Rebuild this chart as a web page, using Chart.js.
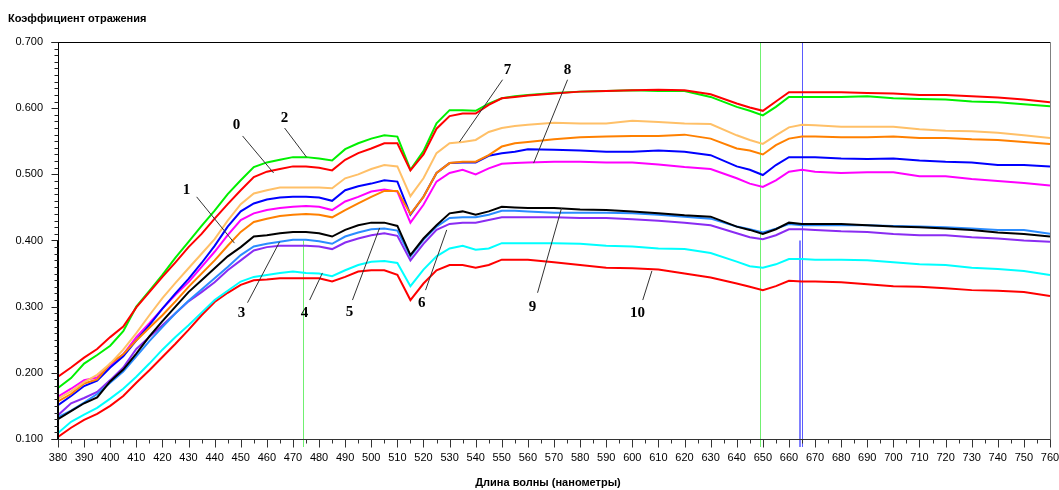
<!DOCTYPE html>
<html lang="ru">
<head>
<meta charset="utf-8">
<title>Коэффициент отражения</title>
<script src="https://cdn.jsdelivr.net/npm/chart.js@4.4.1/dist/chart.umd.min.js"></script>
<style>
  html, body { margin: 0; padding: 0; background: #fff; }
  #contenedor { position: relative; width: 1059px; height: 490px; }
</style>
</head>
<body>
<div id="contenedor"><canvas id="grafico"></canvas></div>
<script>
// Длина волны, нм
const longitudes = [380,385,390,395,400,405,410,415,420,425,430,435,440,445,450,455,460,465,470,475,
  480,485,490,495,500,505,510,515,520,525,530,535,540,545,550,555,560,570,580,590,600,610,620,630,640,
  645,650,655,660,665,670,680,690,700,710,720,730,740,750,760];

// кривые 0..10 (коэффициент отражения)
const curva0 = [.194,.208,.223,.236,.254,.270,.299,.322,.345,.367,.390,.410,.433,.455,.476,.496,.504,.508,.512,.512,
  .510,.506,.522,.532,.539,.547,.547,.506,.530,.569,.588,.592,.592,.605,.615,.617,.619,.622,.625,.626,.627,.628,.627,.621,.607,
  .601,.596,.610,.624,.624,.624,.624,.623,.622,.620,.620,.618,.616,.613,.609];
const curva2 = [.177,.192,.214,.227,.241,.263,.300,.324,.348,.374,.398,.422,.445,.470,.491,.511,.518,.522,.526,.526,
  .524,.521,.538,.547,.554,.559,.557,.507,.535,.577,.597,.597,.596,.607,.615,.618,.620,.623,.625,.626,.627,.626,.626,.617,.602,
  .596,.589,.602,.617,.617,.617,.617,.618,.615,.614,.613,.610,.609,.606,.603];
const curva7 = [.161,.172,.186,.197,.214,.235,.260,.287,.313,.336,.358,.380,.402,.430,.455,.471,.476,.480,.480,.480,
  .480,.479,.494,.500,.508,.514,.512,.467,.494,.532,.547,.549,.552,.564,.570,.573,.575,.578,.577,.577,.581,.579,.577,.576,.559,
  .552,.546,.559,.571,.575,.574,.572,.572,.572,.568,.566,.565,.563,.559,.555];
const curva1 = [.157,.168,.184,.190,.214,.228,.249,.268,.287,.308,.330,.350,.370,.392,.413,.428,.433,.437,.439,.440,
  .439,.435,.446,.456,.466,.475,.475,.440,.466,.502,.517,.519,.519,.529,.542,.547,.549,.553,.556,.557,.558,.558,.560,.554,.539,
  .536,.530,.544,.554,.557,.557,.556,.556,.557,.555,.555,.553,.552,.549,.546];
const curvaAzul = [.151,.165,.180,.188,.208,.225,.249,.272,.297,.320,.342,.366,.392,.421,.444,.456,.462,.465,.466,.466,
  .465,.460,.476,.482,.486,.491,.489,.439,.466,.502,.517,.518,.518,.528,.532,.534,.538,.537,.536,.534,.534,.536,.534,.529,.512,
  .507,.499,.514,.526,.526,.526,.524,.523,.524,.521,.519,.518,.514,.514,.512];
const curva8 = [.164,.176,.189,.193,.212,.228,.254,.275,.297,.318,.337,.360,.383,.408,.431,.441,.446,.449,.451,.452,
  .451,.446,.459,.466,.474,.477,.474,.427,.454,.489,.502,.507,.500,.509,.516,.517,.518,.519,.519,.518,.518,.515,.511,.508,.494,
  .486,.481,.491,.504,.507,.504,.502,.503,.503,.497,.497,.493,.490,.487,.483];
const curva9 = [.130,.142,.154,.163,.187,.205,.229,.255,.278,.300,.322,.340,.358,.376,.390,.406,.408,.411,.413,.413,
  .411,.406,.416,.423,.427,.427,.422,.378,.403,.423,.441,.444,.439,.444,.451,.450,.449,.449,.447,.446,.444,.441,.438,.436,.421,
  .416,.410,.417,.427,.425,.425,.425,.423,.421,.420,.418,.416,.412,.410,.406];
const curva5 = [.133,.143,.155,.168,.185,.202,.225,.248,.269,.290,.309,.326,.343,.360,.378,.391,.395,.398,.401,.401,
  .399,.395,.406,.412,.417,.418,.415,.376,.401,.421,.434,.435,.435,.439,.445,.445,.444,.442,.442,.442,.441,.439,.436,.433,.421,
  .417,.412,.418,.425,.423,.423,.423,.423,.422,.421,.420,.418,.416,.416,.410];
const curva6 = [.136,.154,.162,.171,.189,.208,.236,.254,.272,.290,.308,.322,.337,.355,.370,.385,.390,.392,.392,.392,
  .391,.387,.397,.403,.408,.411,.407,.370,.395,.416,.425,.427,.427,.431,.435,.435,.435,.435,.434,.434,.432,.430,.427,.423,.411,
  .405,.402,.408,.417,.417,.416,.414,.413,.410,.408,.408,.405,.403,.400,.398];
const curva4 = [.109,.126,.137,.147,.161,.176,.194,.214,.235,.254,.272,.291,.310,.324,.338,.345,.348,.351,.353,.351,
  .350,.346,.355,.363,.368,.369,.366,.331,.356,.376,.388,.392,.386,.388,.396,.396,.396,.396,.395,.392,.391,.388,.387,.381,.368,
  .361,.359,.364,.372,.372,.371,.371,.370,.367,.364,.363,.359,.357,.354,.348];
const curva10 = [.103,.117,.129,.138,.150,.165,.185,.204,.224,.244,.265,.287,.307,.321,.333,.340,.341,.343,.343,.343,
  .343,.338,.345,.353,.355,.355,.348,.310,.335,.355,.363,.363,.359,.363,.371,.371,.371,.367,.363,.359,.358,.356,.350,.344,.335,
  .330,.325,.331,.339,.338,.338,.337,.334,.331,.330,.328,.325,.324,.322,.316];

const series = [
  { nombre: '0', datos: curva0, color: '#ff0000' },
  { nombre: '2', datos: curva2, color: '#00f000' },
  { nombre: '7', datos: curva7, color: '#ffc068' },
  { nombre: '1', datos: curva1, color: '#ff8000' },
  { nombre: 'azul', datos: curvaAzul, color: '#0000ff' },
  { nombre: '8', datos: curva8, color: '#ff00ff' },
  { nombre: '9', datos: curva9, color: '#000000' },
  { nombre: '5', datos: curva5, color: '#2a8cff' },
  { nombre: '6', datos: curva6, color: '#8a2cf2' },
  { nombre: '4', datos: curva4, color: '#00ffff' },
  { nombre: '10', datos: curva10, color: '#ff0000' }
];

// номера кривых: текст и выноска (в координатах данных)
const etiquetas = [
  { t: '0',  tx: 448.4, ty: .575, a: [450.7, .558], b: [462.6, .502] },
  { t: '2',  tx: 466.8, ty: .585, a: [466.8, .570], b: [475.2, .526] },
  { t: '1',  tx: 429.2, ty: .476, a: [433.1, .466], b: [447.6, .396] },
  { t: '3',  tx: 450.3, ty: .290, a: [452.6, .306], b: [464.9, .398] },
  { t: '4',  tx: 474.4, ty: .290, a: [476.4, .310], b: [481.3, .351] },
  { t: '5',  tx: 491.7, ty: .292, a: [492.8, .310], b: [503.2, .419] },
  { t: '6',  tx: 519.3, ty: .306, a: [520.8, .325], b: [528.9, .416] },
  { t: '7',  tx: 552.2, ty: .658, a: [550.3, .643], b: [533.8, .549] },
  { t: '8',  tx: 575.2, ty: .658, a: [575.2, .643], b: [562.2, .517] },
  { t: '9',  tx: 561.8, ty: .299, a: [563.7, .321], b: [572.9, .449] },
  { t: '10', tx: 602.0, ty: .290, a: [604.0, .310], b: [607.5, .354] }
];

// вертикальные маркеры
const marcadores = [
  { nm: 474, desde: .4, color: '#70f070', ancho: 1 },
  { nm: 649, desde: .7, color: '#70f070', ancho: 1 },
  { nm: 664.2, desde: .4, color: '#8080ff', ancho: 2 },
  { nm: 665, desde: .7, color: '#5a5aff', ancho: 1 }
];

const fuenteTitulo = 'bold 11px "Liberation Sans", Arial, sans-serif';

const ejes = {
  id: 'ejes',
  beforeDatasetsDraw(chart) {
    const { ctx, chartArea: a, scales: { x, y } } = chart;
    ctx.save();
    marcadores.forEach(m => {
      const px = Math.round(x.getPixelForValue(m.nm)) + (m.ancho % 2 ? 0.5 : 0);
      ctx.strokeStyle = m.color;
      ctx.lineWidth = m.ancho;
      ctx.beginPath();
      ctx.moveTo(px, y.getPixelForValue(m.desde));
      ctx.lineTo(px, a.bottom + 8);
      ctx.stroke();
    });
    ctx.restore();
  },
  afterDatasetsDraw(chart) {
    const { ctx, chartArea: a, scales: { x, y } } = chart;
    ctx.save();
    ctx.lineWidth = 1;

    // рамка
    const L = Math.round(a.left) + 0.5, R = Math.round(a.right) + 0.5;
    const T = Math.round(a.top) + 0.5, B = Math.round(a.bottom) + 0.5;
    ctx.strokeStyle = '#000';
    ctx.beginPath();
    ctx.moveTo(L - 7, T); ctx.lineTo(R, T);
    ctx.moveTo(L, T); ctx.lineTo(L, B);
    ctx.stroke();
    ctx.strokeStyle = '#808080';
    ctx.beginPath();
    ctx.moveTo(R, T); ctx.lineTo(R, B);
    ctx.stroke();
    ctx.strokeStyle = '#333';
    ctx.beginPath();
    ctx.moveTo(L - 7, B); ctx.lineTo(R, B);
    ctx.stroke();
    // утолщение оси слева
    ctx.strokeStyle = '#000';
    ctx.beginPath();
    ctx.moveTo(L - 1, y.getPixelForValue(.4)); ctx.lineTo(L - 1, B);
    ctx.stroke();

    // деления оси Y
    ctx.strokeStyle = '#222';
    ctx.beginPath();
    for (let i = 10; i <= 70; i++) {
      const py = Math.round(y.getPixelForValue(i / 100)) + 0.5;
      const len = i % 10 === 0 ? 7 : 4;
      ctx.moveTo(L - len, py); ctx.lineTo(L, py);
    }
    ctx.stroke();

    // деления оси X
    ctx.strokeStyle = '#333';
    ctx.beginPath();
    for (let nm = 380; nm <= 760; nm += 5) {
      const px = Math.round(x.getPixelForValue(nm)) + 0.5;
      const len = nm % 10 === 0 ? 8 : 4;
      ctx.moveTo(px, B); ctx.lineTo(px, B + len);
    }
    ctx.stroke();

    // выноски и номера кривых
    ctx.strokeStyle = '#333';
    ctx.lineWidth = 1;
    ctx.beginPath();
    etiquetas.forEach(e => {
      ctx.moveTo(x.getPixelForValue(e.a[0]), y.getPixelForValue(e.a[1]));
      ctx.lineTo(x.getPixelForValue(e.b[0]), y.getPixelForValue(e.b[1]));
    });
    ctx.stroke();
    ctx.fillStyle = '#000';
    ctx.font = 'bold 15px "Liberation Serif", "Times New Roman", serif';
    ctx.textAlign = 'center';
    ctx.textBaseline = 'middle';
    etiquetas.forEach(e => {
      ctx.fillText(e.t, x.getPixelForValue(e.tx), y.getPixelForValue(e.ty));
    });

    // заголовки
    ctx.font = fuenteTitulo;
    ctx.textAlign = 'left';
    ctx.fillText('Коэффициент отражения', 8, 19);
    ctx.textAlign = 'center';
    ctx.fillText('Длина волны (нанометры)', 548, 483);
    ctx.restore();
  }
};

const conjuntos = series.map(s => ({
  label: s.nombre,
  data: longitudes.map((nm, i) => ({ x: nm, y: s.datos[i] })),
  borderColor: s.color,
  backgroundColor: s.color,
  borderWidth: 2,
  pointRadius: 0,
  fill: false,
  tension: 0
}));

new Chart(document.getElementById('grafico'), {
  type: 'line',
  data: { datasets: conjuntos },
  options: {
    responsive: true,
    maintainAspectRatio: false,
    animation: false,
    events: [],
    layout: { padding: { left: 0, top: 42, right: 9, bottom: 0 } },
    plugins: { legend: { display: false }, tooltip: { enabled: false } },
    scales: {
      x: {
        type: 'linear', min: 380, max: 760,
        grid: { display: false, drawTicks: false },
        border: { display: false },
        ticks: { stepSize: 10, padding: 12, color: '#000', font: { family: '"Liberation Sans", Arial, sans-serif', size: 11 }, maxRotation: 0, autoSkip: false },
        afterFit: s => { s.height = 51; s.paddingLeft = 0; s.paddingRight = 0; }
      },
      y: {
        type: 'linear', min: 0.1, max: 0.7,
        grid: { display: false, drawTicks: false },
        border: { display: false },
        ticks: { stepSize: 0.1, padding: 15, color: '#000', font: { family: '"Liberation Sans", Arial, sans-serif', size: 11 }, callback: v => v.toFixed(3) },
        afterFit: s => { s.width = 58; s.paddingTop = 0; s.paddingBottom = 0; }
      }
    }
  },
  plugins: [ejes]
});
</script>
</body>
</html>
